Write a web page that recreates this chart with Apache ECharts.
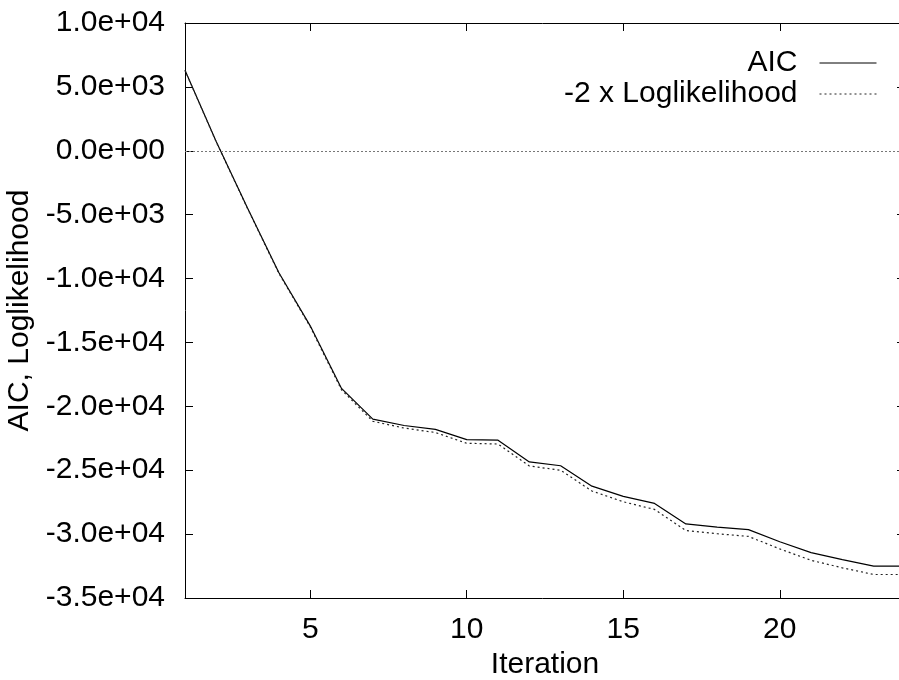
<!DOCTYPE html>
<html>
<head>
<meta charset="utf-8">
<script src="https://cdn.jsdelivr.net/npm/echarts@6/dist/echarts.min.js"></script>
<style>
  html, body { margin: 0; padding: 0; background: #fff; }
  #chart { width: 899px; height: 680px; }
</style>
</head>
<body>
<div id="chart"></div>
<script>
  var iterations = [1, 2, 3, 4, 5, 6, 7, 8, 9, 10, 11, 12, 13, 14, 15, 16, 17, 18, 19, 20, 21, 22, 23, 24]
  var aic = [6300, 700, -4500, -9550, -13700, -18600, -21000, -21500, -21800, -22600, -22650, -24350,
    -24650, -26250, -27050, -27600, -29200, -29450, -29650, -30600, -31450, -32000, -32500, -32500]
  var negTwoLogLik = [6290, 680, -4530, -9600, -13770, -18710, -21170, -21700, -22050, -22890, -22950, -24670,
    -25000, -26630, -27470, -28070, -29720, -29970, -30180, -31160, -32050, -32640, -33160, -33160]
  var xTicks = [5, 10, 15, 20]

  var font = 'Liberation Sans'

  function pairs (ys) {
    return iterations.map(function (x, i) { return [x, ys[i]] })
  }

  // gnuplot style labels: 1.0e+04
  function sci (v) {
    return v.toExponential(1).replace(/e([+-])(\d)$/, 'e$10$2')
  }

  var axisLine = { show: true, onZero: false, lineStyle: { color: '#000', width: 1 } }
  var tickLine = { color: '#000', width: 1 }

  var chart = echarts.init(document.getElementById('chart'))
  chart.setOption({
    animation: false,
    textStyle: { fontFamily: font },
    grid: { left: 185, right: -6, top: 23, bottom: 82, outerBoundsMode: 'none' },
    legend: {
      orient: 'vertical',
      align: 'right',
      right: 22,
      top: 48,
      padding: 0,
      itemGap: 1,
      itemWidth: 57,
      itemHeight: 14,
      itemStyle: { color: 'rgba(0,0,0,0)', borderWidth: 0 },
      lineStyle: { width: 1 },
      textStyle: { fontFamily: font, fontSize: 30, color: '#000', padding: [0, 17, 0, 0] },
      data: ['AIC', '-2 x Loglikelihood']
    },
    xAxis: [{
      type: 'value',
      min: 1,
      max: 24,
      position: 'bottom',
      name: 'Iteration',
      nameLocation: 'middle',
      nameGap: 46,
      nameTextStyle: { fontFamily: font, fontSize: 30, color: '#000' },
      axisLine: axisLine,
      axisTick: { inside: true, length: 8, customValues: xTicks, lineStyle: tickLine },
      axisLabel: { customValues: xTicks, margin: 17, fontFamily: font, fontSize: 30, color: '#000' },
      splitLine: { show: false }
    }, {
      type: 'value',
      min: 1,
      max: 24,
      position: 'top',
      axisLine: axisLine,
      axisTick: { inside: true, length: 8, customValues: xTicks, lineStyle: tickLine },
      axisLabel: { show: false },
      splitLine: { show: false }
    }],
    yAxis: [{
      type: 'value',
      min: -35000,
      max: 10000,
      interval: 5000,
      position: 'left',
      name: 'AIC, Loglikelihood',
      nameLocation: 'middle',
      nameGap: 136,
      nameTextStyle: { fontFamily: font, fontSize: 30, color: '#000' },
      axisLine: axisLine,
      axisTick: { inside: true, length: 8, lineStyle: tickLine },
      axisLabel: { margin: 20, fontFamily: font, fontSize: 30, color: '#000', formatter: sci },
      splitLine: { show: false }
    }, {
      type: 'value',
      min: -35000,
      max: 10000,
      interval: 5000,
      position: 'right',
      axisLine: axisLine,
      axisTick: { inside: true, length: 8, lineStyle: tickLine },
      axisLabel: { show: false },
      splitLine: { show: false }
    }],
    series: [{
      name: 'AIC',
      type: 'line',
      data: pairs(aic),
      showSymbol: false,
      symbol: 'none',
      lineStyle: { color: '#000', width: 1.2 },
      itemStyle: { color: '#000' },
      markLine: {
        silent: true,
        symbol: ['none', 'none'],
        label: { show: false },
        lineStyle: { color: '#777', width: 1, type: [2, 2] },
        data: [{ yAxis: 0 }]
      }
    }, {
      name: '-2 x Loglikelihood',
      type: 'line',
      data: pairs(negTwoLogLik),
      showSymbol: false,
      symbol: 'none',
      lineStyle: { color: '#222', width: 1.2, type: [2, 3] },
      itemStyle: { color: '#222' }
    }]
  })
</script>
</body>
</html>
